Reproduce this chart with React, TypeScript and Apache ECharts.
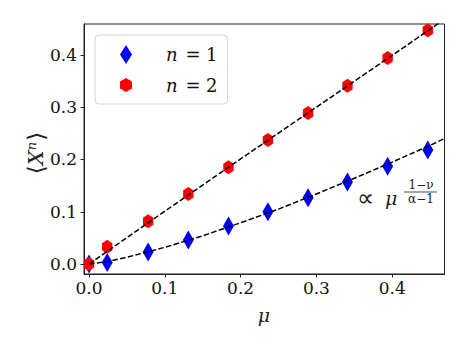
import React, { useEffect, useRef } from "react";
import * as echarts from "echarts";

// Measured points
const muValues = [0, 0.024, 0.078, 0.131, 0.184, 0.236, 0.289, 0.341, 0.394, 0.447];
const n1Values = [0.0, 0.003, 0.023, 0.046, 0.073, 0.1, 0.127, 0.157, 0.187, 0.218];
const n2Values = [0.0, 0.033, 0.082, 0.134, 0.185, 0.237, 0.289, 0.341, 0.394, 0.447];

// Dashed fit curves
const fit1X = [0, 0.025, 0.05, 0.1, 0.15, 0.2, 0.25, 0.3, 0.35, 0.4, 0.45, 0.469];
const fit1Y = [0, 0.005, 0.013, 0.032, 0.054, 0.079, 0.105, 0.134, 0.164, 0.195, 0.227, 0.24];
const fit2X = [0, 0.1, 0.2, 0.3, 0.4, 0.469];
const fit2Y = [0, 0.101, 0.201, 0.3, 0.399, 0.468];

const xTicks = [0, 0.1, 0.2, 0.3, 0.4];
const yTicks = [0, 0.1, 0.2, 0.3, 0.4];
const seriesNames = ["n1", "n2"];

const FONT = "DejaVu Serif";
const HEX = "path://M0,-1 L0.866,-0.5 L0.866,0.5 L0,1 L-0.866,0.5 L-0.866,-0.5 Z";

export default function App() {
  const ref = useRef<HTMLDivElement>(null);
  useEffect(() => {
    document.body.style.margin = "0";
    const chart = echarts.init(ref.current!, null, { renderer: "svg" });
    const legendRich = {
      pad: { width: 29, fontFamily: FONT, fontSize: 18 },
      i: { fontStyle: "italic", fontFamily: FONT, fontSize: 18, color: "#111", width: 14 },
      eq: { fontFamily: FONT, fontSize: 18, color: "#111", width: 26, align: "center" },
      d: { fontFamily: FONT, fontSize: 18, color: "#111" },
    };
    chart.setOption({
      animation: false,
      backgroundColor: "#fff",
      grid: { left: 84, top: 24, right: 24.5, bottom: 77, show: true, borderColor: "#222", borderWidth: 1, containLabel: false },
      xAxis: {
        type: "value",
        min: -0.0066,
        max: 0.469,
        axisLine: { show: true, onZero: false, lineStyle: { color: "#222", width: 1 } },
        axisTick: { show: true, inside: false, length: 3.5, customValues: xTicks, lineStyle: { color: "#222" } },
        axisLabel: {
          customValues: xTicks,
          formatter: (v: number) => v.toFixed(1),
          fontFamily: FONT,
          fontSize: 17,
          color: "#111",
          margin: 5,
        },
        splitLine: { show: false },
      },
      yAxis: {
        type: "value",
        min: -0.019,
        max: 0.459,
        axisLine: { show: true, onZero: false, lineStyle: { color: "#222", width: 1 } },
        axisTick: { show: true, inside: false, length: 3.5, customValues: yTicks, lineStyle: { color: "#222" } },
        axisLabel: {
          customValues: yTicks,
          formatter: (v: number) => v.toFixed(1),
          fontFamily: FONT,
          fontSize: 17,
          color: "#111",
          margin: 7,
        },
        splitLine: { show: false },
      },
      legend: {
        orient: "vertical",
        left: 95,
        top: 35,
        data: seriesNames,
        backgroundColor: "rgba(255,255,255,0.8)",
        borderColor: "#d4d4d4",
        borderWidth: 1,
        borderRadius: 4,
        padding: [10, 10, 10, 25],
        itemWidth: 12,
        itemHeight: 19,
        itemGap: 12,
        symbolKeepAspect: true,
        formatter: (name: string) => `{pad|}{i|n}{eq|=}{d|${name === "n1" ? "1" : "2"}}`,
        textStyle: { rich: legendRich },
      },
      series: [
        {
          name: "n1",
          type: "scatter",
          symbol: "diamond",
          symbolSize: [11, 19],
          itemStyle: { color: "#0000ff", opacity: 1 },
          data: muValues.map((x, i) => [x, n1Values[i]]),
          z: 2,
        },
        {
          name: "n2",
          type: "scatter",
          symbol: HEX,
          symbolKeepAspect: true,
          symbolSize: [12, 14],
          itemStyle: { color: "#ff0000", opacity: 1 },
          data: muValues.map((x, i) => [x, n2Values[i]]),
          z: 3,
        },
        {
          name: "fit1",
          type: "line",
          showSymbol: false,
          symbol: "none",
          lineStyle: { color: "#000", width: 1.5, type: [5.5, 2.4] },
          data: fit1X.map((x, i) => [x, fit1Y[i]]),
          z: 4,
          clip: true,
        },
        {
          name: "fit2",
          type: "line",
          showSymbol: false,
          symbol: "none",
          lineStyle: { color: "#000", width: 1.5, type: [5.5, 2.4] },
          data: fit2X.map((x, i) => [x, fit2Y[i]]),
          z: 4,
          clip: true,
        },
      ],
      graphic: [
        {
          type: "text",
          x: 36,
          y: 153,
          rotation: Math.PI / 2,
          style: {
            text: "{b|⟨}{x|X}{s|n}{b|⟩}",
            align: "center",
            verticalAlign: "middle",
            rich: {
              b: { fontFamily: FONT, fontSize: 23, fill: "#222" },
              x: { fontFamily: FONT, fontStyle: "italic", fontSize: 21, fill: "#222" },
              s: { fontFamily: FONT, fontStyle: "italic", fontSize: 13, fill: "#222", verticalAlign: "top", padding: [0, 1, 10, 0] },
            },
          },
        },
        {
          type: "text",
          x: 264,
          y: 315,
          style: { text: "μ", fontFamily: FONT, fontStyle: "italic", fontSize: 19, fill: "#222", align: "center", verticalAlign: "middle" },
        },
        {
          type: "text",
          x: 357,
          y: 198,
          style: { text: "∝", fontFamily: "DejaVu Sans", fontSize: 24, fill: "#222", align: "left", verticalAlign: "middle" },
        },
        {
          type: "text",
          x: 385,
          y: 198,
          style: { text: "μ", fontFamily: FONT, fontStyle: "italic", fontSize: 19, fill: "#222", align: "left", verticalAlign: "middle" },
        },
        {
          type: "text",
          x: 421,
          y: 185,
          style: { text: "1−ν", fontFamily: FONT, fontSize: 12, fill: "#222", align: "center", verticalAlign: "middle" },
        },
        {
          type: "line",
          shape: { x1: 404, y1: 192, x2: 437, y2: 192 },
          style: { stroke: "#222", lineWidth: 0.8 },
        },
        {
          type: "text",
          x: 421,
          y: 199,
          style: { text: "α−1", fontFamily: FONT, fontSize: 12, fill: "#222", align: "center", verticalAlign: "middle" },
        },
      ],
    });
    return () => chart.dispose();
  }, []);
  return <div ref={ref} style={{ width: 469, height: 351 }} />;
}
